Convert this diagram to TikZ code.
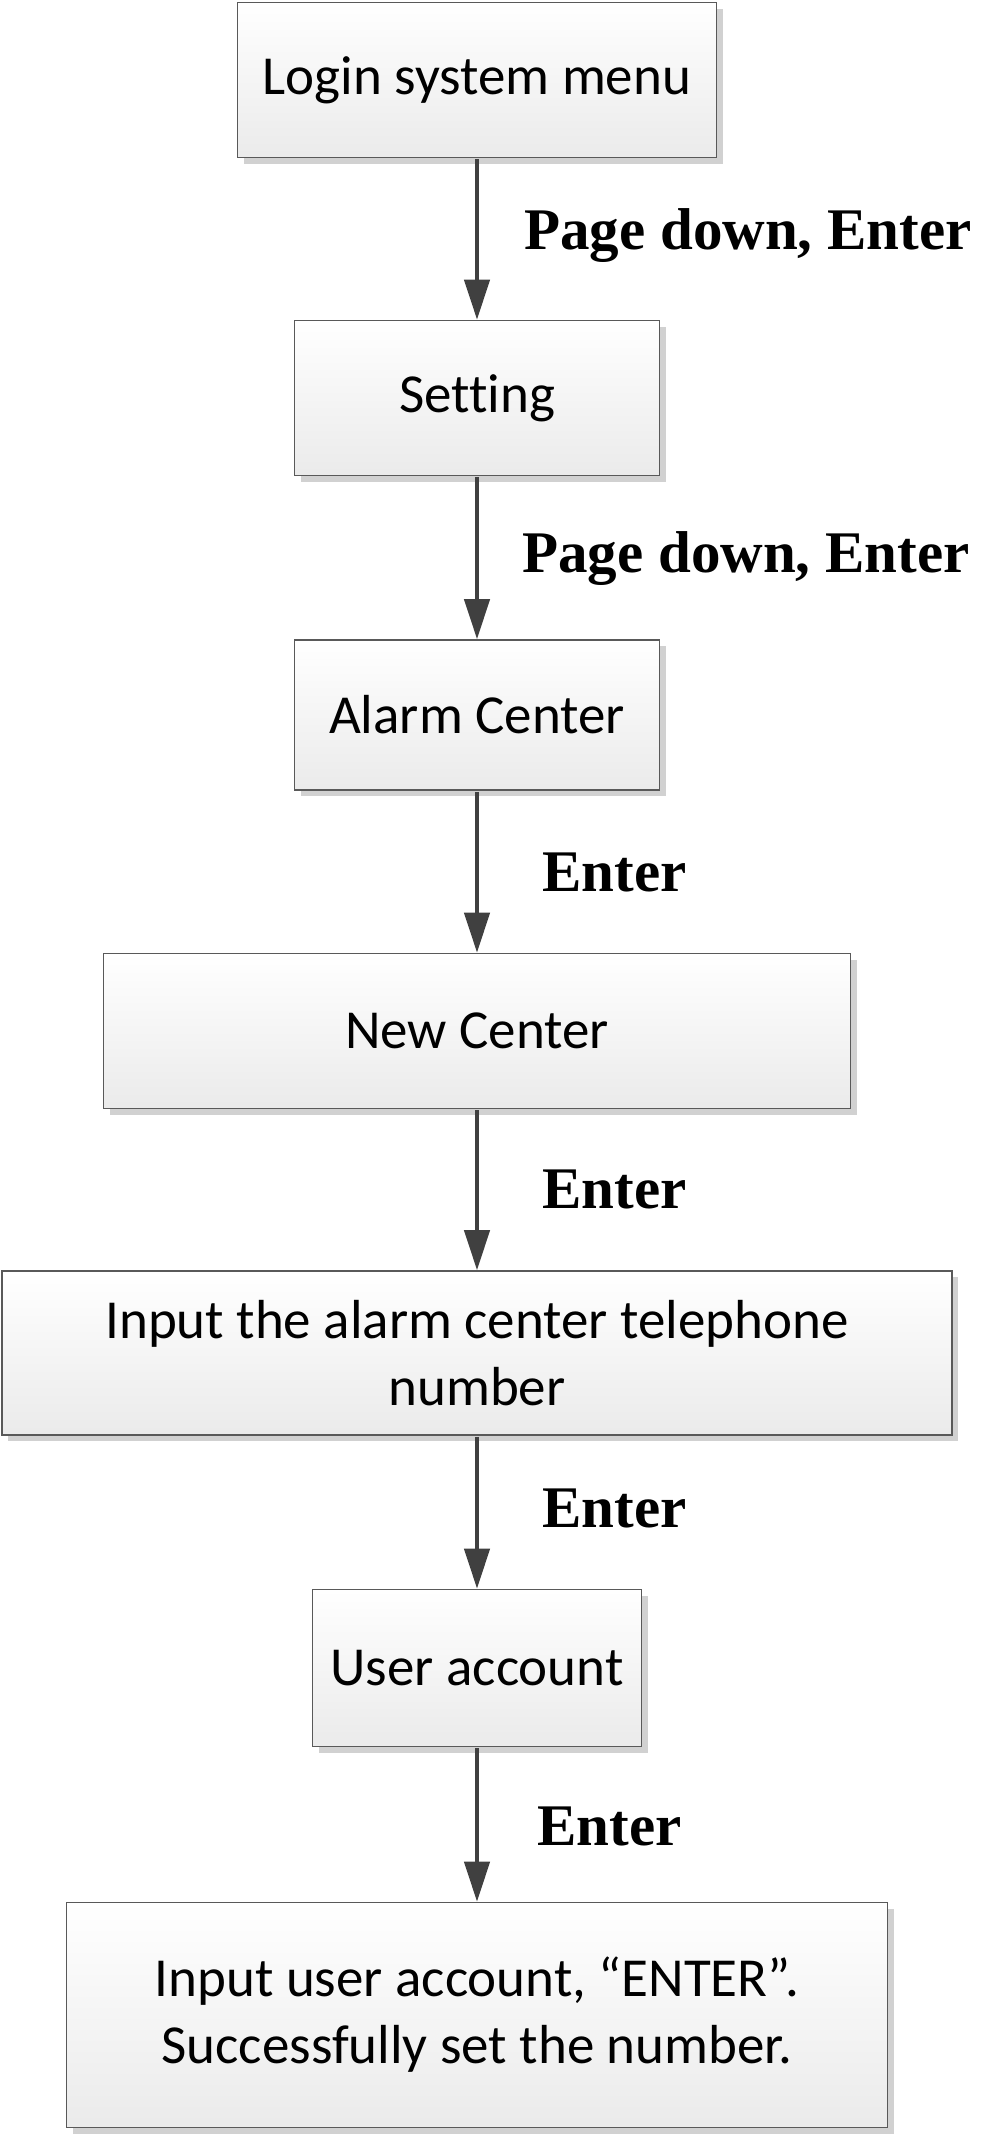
\documentclass[tikz,border=0pt]{standalone}
\usepackage{fontspec}
\setmainfont[Ligatures=NoCommon]{Carlito}
\newfontfamily\lblfont{Liberation Serif}
\usetikzlibrary{arrows.meta,shadows}
\begin{document}
\begin{tikzpicture}[x=1pt,y=-1pt,
  flowbox/.style={draw=black!65, line width=1.6pt, top color=white, bottom color=black!8,
    drop shadow={shadow xshift=6pt, shadow yshift=-6pt, fill=black!18, opacity=1},
    inner sep=0pt, align=center, font=\fontsize{55}{67}\selectfont},
  lbl/.style={anchor=west, inner sep=0pt, font=\lblfont\bfseries\fontsize{59}{64}\selectfont},
  arr/.style={draw=black!75, line width=4.5pt, -{Triangle[width=25pt,length=40pt]}, shorten <=1pt}]
\useasboundingbox (0,0) rectangle (1000,2136);
\node[flowbox, minimum width=479pt, minimum height=155pt] (b1) at (477,80) {Login system menu};
\node[flowbox, minimum width=365pt, minimum height=155pt] (b2) at (477,398) {Setting};
\node[flowbox, minimum width=365pt, minimum height=150pt] (b3) at (477,715) {Alarm Center};
\node[flowbox, minimum width=747pt, minimum height=155pt] (b4) at (477,1031) {New Center};
\node[flowbox, minimum width=950pt, minimum height=164pt] (b5) at (477,1353) {Input the alarm center telephone\\number};
\node[flowbox, minimum width=329pt, minimum height=157pt] (b6) at (477,1668) {User account};
\node[flowbox, minimum width=821pt, minimum height=225pt] (b7) at (477,2015) {Input user account, “ENTER”.\\Successfully set the number.};
\draw[arr] (b1) -- (b2);
\draw[arr] (b2) -- (b3);
\draw[arr] (b3) -- (b4);
\draw[arr] (b4) -- (b5);
\draw[arr] (b5) -- (b6);
\draw[arr] (b6) -- (b7);
\node[lbl] (l1) at (524,236) {Page down, Enter};
\node[lbl] (l2) at (522,559) {Page down, Enter};
\node[lbl] (l3) at (542,872) {Enter};
\node[lbl] (l4) at (542,1189) {Enter};
\node[lbl] (l5) at (542,1508) {Enter};
\node[lbl] (l6) at (537,1826) {Enter};
\end{tikzpicture}
\end{document}
